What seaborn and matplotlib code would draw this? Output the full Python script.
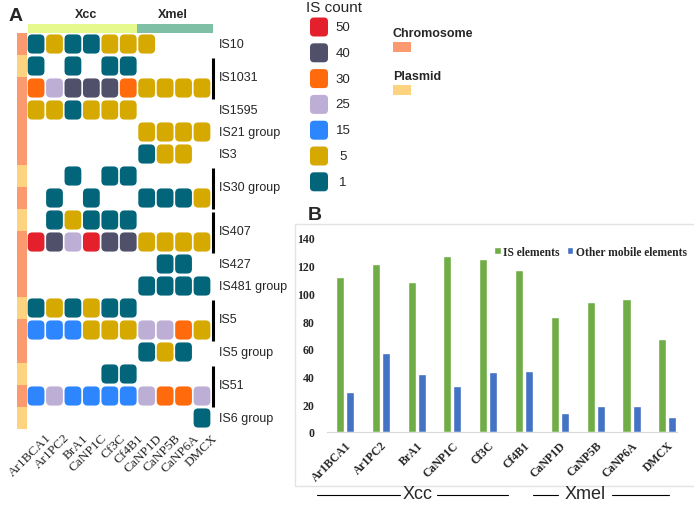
import pandas as pd
import matplotlib
matplotlib.use("Agg")
import matplotlib.pyplot as plt
from matplotlib.patches import FancyBboxPatch, Rectangle
import seaborn as sns

# Strains (shared by both panels)
strains = ["Ar1BCA1", "Ar1PC2", "BrA1", "CaNP1C", "Cf3C", "Cf4B1",
           "CaNP1D", "CaNP5B", "CaNP6A", "DMCX"]
n_xcc = 6

# Panel A: one row per IS family / replicon
row_family = ["IS10", "IS1031", "IS1031", "IS1595", "IS21 group", "IS3",
              "IS30 group", "IS30 group", "IS407", "IS407", "IS427", "IS481 group",
              "IS5", "IS5", "IS5 group", "IS51", "IS51", "IS6 group"]
row_replicon = ["Chromosome", "Plasmid", "Chromosome", "Chromosome", "Chromosome", "Chromosome",
                "Plasmid", "Chromosome", "Plasmid", "Chromosome", "Chromosome", "Chromosome",
                "Plasmid", "Chromosome", "Chromosome", "Plasmid", "Chromosome", "Plasmid"]
is_counts = [
    [1, 5, 1, 1, 5, 5, 5, 0, 0, 0],
    [1, 0, 1, 0, 1, 1, 0, 0, 0, 0],
    [30, 25, 40, 40, 40, 30, 5, 5, 5, 5],
    [5, 5, 1, 5, 5, 5, 0, 0, 0, 0],
    [0, 0, 0, 0, 0, 0, 5, 5, 5, 5],
    [0, 0, 0, 0, 0, 0, 1, 5, 5, 0],
    [0, 0, 1, 0, 1, 1, 0, 0, 0, 0],
    [0, 1, 0, 1, 0, 0, 1, 1, 1, 5],
    [0, 1, 5, 1, 1, 1, 0, 0, 0, 0],
    [50, 40, 25, 50, 40, 40, 5, 5, 5, 5],
    [0, 0, 0, 0, 0, 0, 0, 1, 1, 0],
    [0, 0, 0, 0, 0, 0, 1, 1, 1, 1],
    [1, 5, 1, 5, 1, 1, 0, 0, 0, 0],
    [15, 15, 15, 5, 5, 5, 25, 25, 30, 5],
    [0, 0, 0, 0, 0, 0, 1, 5, 1, 0],
    [0, 0, 0, 0, 1, 1, 0, 0, 0, 0],
    [15, 25, 15, 15, 15, 15, 25, 30, 30, 25],
    [0, 0, 0, 0, 0, 0, 0, 0, 0, 1],
]
count_levels = [50, 40, 30, 25, 15, 5, 1]

# Panel B
is_elements = [112, 121, 108, 127, 125, 117, 83, 94, 96, 67]
other_elements = [29, 57, 42, 33, 43, 44, 14, 19, 19, 11]

# colours
level_colors = ["#e3202b", "#50506a", "#ff6a0c", "#bdaed6", "#2e86ff", "#d5a900", "#02657a"]
level_cmap = dict(zip(count_levels, level_colors))
replicon_colors = {"Chromosome": "#fb9a6e", "Plasmid": "#fdd37f"}
xcc_color, xmel_color = "#e6f98c", "#7fbfa6"
bar_colors = ["#70ad47", "#4472c4"]

sns.set_style("white")
plt.rcParams["font.family"] = ["Liberation Sans", "DejaVu Sans"]

W, H = 694, 506
fig = plt.figure(figsize=(W / 100, H / 100), dpi=100)

# overlay in pixel units for labels / legends
ov = fig.add_axes([0, 0, 1, 1])
ov.set_xlim(0, W)
ov.set_ylim(H, 0)
ov.axis("off")
ov.set_zorder(0)

# ---------------- Panel A ----------------
axA = fig.add_axes([16.7 / W, 1 - 430 / H, 194.5 / W, 405.9 / H])
axA.set_zorder(1)
axA.patch.set_visible(False)
axA.set_xlim(-1.05, 9.5)
axA.set_ylim(17.5, -0.95)
axA.axis("off")

for r, row in enumerate(is_counts):
    for c, v in enumerate(row):
        if v == 0:
            continue
        axA.add_patch(FancyBboxPatch((c - 0.455, r - 0.435), 0.91, 0.87,
                                     boxstyle="round,pad=0,rounding_size=0.25",
                                     mutation_aspect=0.83, lw=0,
                                     fc=level_cmap[v]))
    # replicon side bar
    axA.add_patch(Rectangle((-1.03, r - 0.5), 0.56, 1.0, lw=0,
                            fc=replicon_colors[row_replicon[r]]))

# species bar on top
axA.add_patch(Rectangle((-0.45, -0.91), n_xcc - 0.05, 0.41, lw=0, fc=xcc_color, clip_on=False))
axA.add_patch(Rectangle((n_xcc - 0.5, -0.91), len(strains) - n_xcc + 0.1, 0.41, lw=0,
                        fc=xmel_color, clip_on=False))
axA.text((n_xcc - 1) / 2 + 0.2, -1.36, "Xcc", ha="center", va="center",
         fontsize=9, fontweight="bold")
axA.text(n_xcc + (len(strains) - n_xcc - 1) / 2 - 0.1, -1.36, "Xmel", ha="center",
         va="center", fontsize=9, fontweight="bold")

# row labels, with a bar when a family spans two rows
r = 0
while r < len(row_family):
    fam = row_family[r]
    span = 2 if r + 1 < len(row_family) and row_family[r + 1] == fam else 1
    ymid = r + (span - 1) / 2
    axA.text(9.9, ymid, fam, ha="left", va="center", fontsize=9, clip_on=False)
    if span == 2:
        axA.plot([9.6, 9.6], [r - 0.38, r + 1.48], color="black", lw=2.2,
                 clip_on=False, solid_capstyle="butt")
    r += span

for c, s in enumerate(strains):
    axA.text(c + 0.5, 17.6, s, rotation=45, ha="right", va="top",
             rotation_mode="anchor", fontsize=9.5, family="Liberation Serif",
             clip_on=False)

# IS count legend
ov.text(334, 8, "IS count", ha="center", va="center", fontsize=11)
for i, lev in enumerate(count_levels):
    yc = 28 + i * 25.8
    ov.add_patch(FancyBboxPatch((310, yc - 9.5), 18, 19,
                                boxstyle="round,pad=0,rounding_size=4",
                                lw=0, fc=level_cmap[lev]))
    ov.text(343, yc, str(lev), ha="center", va="center", fontsize=9.5)

# replicon legend
for i, name in enumerate(["Chromosome", "Plasmid"]):
    y0 = 34 + i * 43
    ov.text(393, y0, name, ha="left", va="center", fontsize=9, fontweight="bold")
    ov.add_patch(Rectangle((393, y0 + 8.5), 18, 10, lw=0, fc=replicon_colors[name]))

ov.text(16, 16, "A", ha="center", va="center", fontsize=14, fontweight="bold")
ov.text(315, 216, "B", ha="center", va="center", fontsize=14, fontweight="bold")

# ---------------- Panel B ----------------
ov.add_patch(Rectangle((295, 225), 420, 262, fill=False, ec="#e3e3e3", lw=1))

df = pd.DataFrame({
    "strain": strains * 2,
    "count": is_elements + other_elements,
    "type": ["IS elements"] * len(strains) + ["Other mobile elements"] * len(strains),
})

axB = fig.add_axes([327 / W, 1 - 433 / H, 350 / W, 194 / H])
axB.set_zorder(1)
axB.patch.set_visible(False)
sns.barplot(data=df, x="strain", y="count", hue="type", palette=bar_colors,
            width=0.56, gap=0.2, ax=axB, saturation=1)
axB.set_xlim(-0.5, 9.27)
axB.set_ylim(0, 140)
axB.set_yticks(range(0, 141, 20))
axB.set_xlabel("")
axB.set_ylabel("")
sns.despine(ax=axB, left=True)
axB.spines["bottom"].set_color("#d9d9d9")
axB.tick_params(length=0)
axB.tick_params(axis="y", pad=9)
for lab in axB.get_yticklabels():
    lab.set_fontfamily("Liberation Serif")
    lab.set_fontweight("bold")
    lab.set_fontsize(8.5)
axB.set_xticks(range(len(strains)))
axB.set_xticklabels(strains, rotation=45, ha="right", va="top", rotation_mode="anchor",
                    fontfamily="Liberation Serif", fontweight="bold", fontsize=8.5)
axB.tick_params(axis="x", pad=5)

handles, labels = axB.get_legend_handles_labels()
axB.legend(handles, labels, loc="upper right", ncol=2, frameon=False,
           bbox_to_anchor=(694 / W, 1 - 240 / H), bbox_transform=fig.transFigure,
           handlelength=0.55, handleheight=0.55, handletextpad=0.25, columnspacing=0.6,
           borderaxespad=0.2,
           prop={"family": "Liberation Serif", "weight": "bold", "size": 8.3})

# species brackets below panel B
for label, xc, l1, l2 in [("Xcc", 418, (317, 400), (437, 508)),
                          ("Xmel", 585, (533, 558), (612, 669))]:
    ov.text(xc, 495, label, ha="center", va="center", fontsize=13)
    ov.plot(l1, [496, 496], color="black", lw=0.8)
    ov.plot(l2, [496, 496], color="black", lw=0.8)

fig.savefig("out.png", dpi=100)
